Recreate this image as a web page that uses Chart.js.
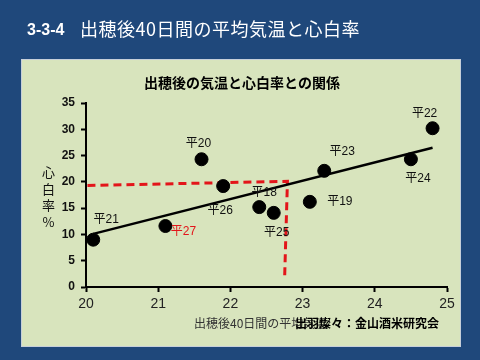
<!DOCTYPE html>
<html>
<head>
<meta charset="utf-8">
<script src="https://cdn.jsdelivr.net/npm/chart.js@4"></script>
<style>
  html, body { margin:0; padding:0; }
  body { width:480px; height:360px; background:#1F487B; position:relative; overflow:hidden; }
  #panel { position:absolute; left:21px; top:59px; width:440px; height:288px; background:#D8E4BD; border:1px solid #C6CFD9; box-sizing:border-box; }
  #c { position:absolute; left:0; top:0; }
  .t { position:absolute; white-space:nowrap; font-family:"Noto Sans CJK JP", sans-serif; line-height:1; }
  #head1 { left:27px; top:21px; color:#fff; font:bold 16px "Liberation Sans", Arial, sans-serif; }
  #head2 { left:80px; top:19px; color:#fff; font-size:18px; letter-spacing:0.5px; }
  #ctitle { left:0; width:484px; text-align:center; top:75px; font-weight:bold; font-size:14px; color:#000; }
  #ylab { left:42px; top:164px; width:13px; font-size:13px; line-height:16.5px; white-space:normal; color:#111; text-align:center; }
  #xtitle { left:194px; top:317px; font-size:12px; color:#333; }
  #src { left:295px; top:317px; font-size:12px; font-weight:bold; color:#000; }
</style>
</head>
<body>
<div id="panel"></div>
<canvas id="c" width="480" height="360"></canvas>
<div class="t" id="head1">3-3-4</div>
<div class="t" id="head2">出穂後40日間の平均気温と心白率</div>
<div class="t" id="ctitle">出穂後の気温と心白率との関係</div>
<div class="t" id="ylab">心<br>白<br>率<br>%</div>
<div class="t" id="xtitle">出穂後40日間の平均気温</div>
<div class="t" id="src">出羽燦々：金山酒米研究会</div>
<script>
// ---- data ----
const yearLabels = ['平18','平19','平20','平21','平22','平23','平24','平25','平26','平27'];
const meanTemp   = [22.4, 23.1, 21.6, 20.1, 24.8, 23.3, 24.5, 22.6, 21.9, 21.1];
const shinpakuRate = [15.2, 16.2, 24.3, 9.0, 30.2, 22.1, 24.3, 14.1, 19.2, 11.6];
const trendX = [20.1, 24.8];
const trendY = [10.1, 26.5];
const refX = [20.02, 22.79, 22.75];
const refY = [19.3, 20.1, 1.3];
const xTickValues = [20, 21, 22, 23, 24, 25];
const yTickValues = [0, 5, 10, 15, 20, 25, 30, 35];

// ---- layout for point labels (pixel offsets from each point) ----
const labelOffsets = {
  '平18':[5,-14], '平19':[30,0], '平20':[-3,-16], '平21':[13,-20], '平22':[-8,-15],
  '平23':[18,-19], '平24':[7,19], '平25':[3,20], '平26':[-3,25], '平27':[18,6]
};
const labelColors = { '平27':'#E3151A' };

const points = meanTemp.map((x,i)=>({x:x, y:shinpakuRate[i]}));
const trend = trendX.map((x,i)=>({x:x, y:trendY[i]}));
const ref = refX.map((x,i)=>({x:x, y:refY[i]}));

const pointLabelPlugin = {
  id:'pointLabels',
  afterDatasetsDraw(chart){
    const ctx = chart.ctx, xs = chart.scales.x, ys = chart.scales.y;
    ctx.save();
    ctx.font = '12px "Liberation Sans", "Noto Sans CJK JP", sans-serif';
    ctx.textAlign = 'center';
    ctx.textBaseline = 'middle';
    yearLabels.forEach((lab,i)=>{
      const px = xs.getPixelForValue(meanTemp[i]);
      const py = ys.getPixelForValue(shinpakuRate[i]);
      const off = labelOffsets[lab] || [0,-14];
      ctx.fillStyle = labelColors[lab] || '#111';
      ctx.fillText(lab, px+off[0], py+off[1]);
    });
    ctx.restore();
  }
};

new Chart(document.getElementById('c'), {
  type:'scatter',
  data:{
    datasets:[
      { data:points, backgroundColor:'#000', borderColor:'#000', pointRadius:6.5, pointHoverRadius:6.5, order:0 },
      { type:'line', data:trend, borderColor:'#000', borderWidth:2.5, pointRadius:0, fill:false, tension:0, order:1 },
      { type:'line', data:ref, borderColor:'#E3151A', borderWidth:3, borderDash:[8,5], pointRadius:0, fill:false, tension:0, order:2 }
    ]
  },
  options:{
    responsive:false,
    animation:false,
    events:[],
    layout:{ padding:{ top:103, right:33, left:0, bottom:0 } },
    plugins:{ legend:{display:false}, tooltip:{enabled:false}, title:{display:false} },
    scales:{
      x:{
        type:'linear', min:20, max:25,
        afterBuildTicks(s){ s.ticks = xTickValues.map(v=>({value:v})); },
        afterFit(s){ s.height = 73; },
        ticks:{ font:{ family:'"Liberation Sans", Arial, sans-serif', size:14 }, color:'#222', padding:4 },
        grid:{ drawOnChartArea:false, drawTicks:true, tickLength:5, tickColor:'#000', tickWidth:2, color:'#000' },
        border:{ color:'#000', width:2 }
      },
      y:{
        min:0, max:35,
        afterBuildTicks(s){ s.ticks = yTickValues.map(v=>({value:v})); },
        afterFit(s){ s.width = 86; },
        ticks:{ font:{ family:'"Liberation Sans", Arial, sans-serif', size:12, weight:'bold' }, color:'#111', padding:6 },
        grid:{ drawOnChartArea:false, drawTicks:true, tickLength:5, tickColor:'#000', tickWidth:2, color:'#000' },
        border:{ color:'#000', width:2 }
      }
    }
  },
  plugins:[pointLabelPlugin]
});
</script>
</body>
</html>
